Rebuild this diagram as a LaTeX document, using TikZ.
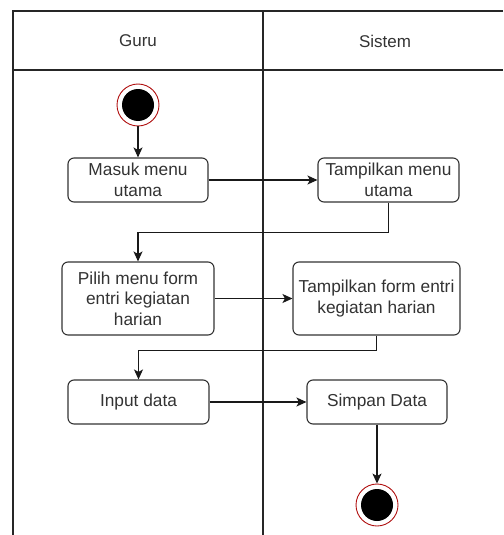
\documentclass[tikz,border=0pt]{standalone}
\usepackage{fontspec}
\setmainfont{Liberation Sans}
\usetikzlibrary{arrows.meta}
\definecolor{txt}{HTML}{333333}
\definecolor{ringred}{HTML}{B01010}
\tikzset{
  lane/.style={line width=1.2pt, draw=black!85},
  act/.style={draw=black!80, line width=1.1pt, rounded corners=6pt, fill=white,
    text=txt, align=center, inner sep=0pt,
    font=\fontsize{17.3}{20.5}\selectfont},
  flow/.style={draw=black!90, line width=1.1pt,
    -{Stealth[length=10pt,width=9pt,inset=2.5pt]}},
  hdr/.style={text=txt, font=\fontsize{17}{20}\selectfont},
}
\begin{document}
\begin{tikzpicture}[x=1pt,y=-1pt]
\useasboundingbox (0,0) rectangle (503,535);
% swimlanes
\draw[lane] (503,11) -- (13,11) -- (13,535);
\draw[lane] (13,70) -- (503,70);
\draw[lane] (263,11) -- (263,535);
\node[hdr] (guru) at (138,41) {Guru};
\node[hdr] (sistem) at (385,41) {Sistem};
% start
\node[circle, draw=ringred, line width=0.9pt, fill=white, minimum size=42pt, inner sep=0pt] (start) at (138,105) {};
\fill[black] (start.center) circle (16);
% activities
\node[act, minimum width=140pt, minimum height=44pt] (masuk) at (138,180) {Masuk menu\\utama};
\node[act, minimum width=141pt, minimum height=44pt] (tmu) at (388.5,180) {Tampilkan menu\\utama};
\node[act, minimum width=152pt, minimum height=73pt] (pilih) at (138,298.5) {Pilih menu form\\entri kegiatan\\harian};
\node[act, minimum width=167pt, minimum height=73pt] (tform) at (376.5,298.5) {Tampilkan form entri\\kegiatan harian};
\node[act, minimum width=141pt, minimum height=44pt] (input) at (138.5,402) {Input data};
\node[act, minimum width=140pt, minimum height=44pt] (simpan) at (377,402) {Simpan Data};
% end
\node[circle, draw=ringred, line width=0.9pt, fill=white, minimum size=42pt, inner sep=0pt] (end) at (377,505) {};
\fill[black] (end.center) circle (16);
% flows
\draw[flow] (start.south) -- (masuk.north);
\draw[flow] (masuk.east) -- (tmu.west);
\draw[flow] (tmu.south) -- ++(0,30) -| (pilih.north);
\draw[flow] (pilih.east) -- (tform.west);
\draw[flow] (tform.south) -- ++(0,15) -| (input.north);
\draw[flow] (input.east) -- (simpan.west);
\draw[flow] (simpan.south) -- (end.north);
\end{tikzpicture}
\end{document}
